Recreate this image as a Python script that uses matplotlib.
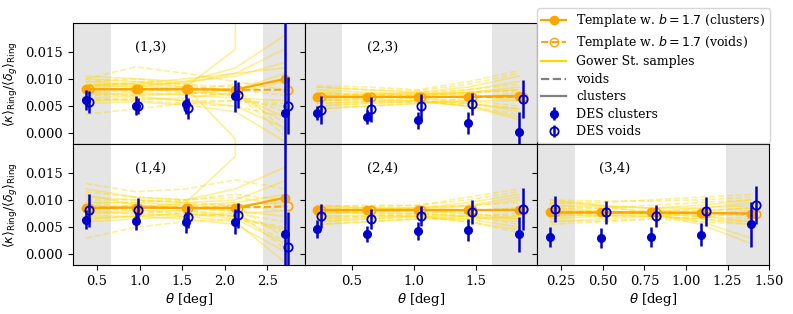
import matplotlib
matplotlib.use('Agg')
import matplotlib.pyplot as plt
import numpy as np
from matplotlib.lines import Line2D

plt.rcParams['font.family'] = 'serif'
plt.rcParams['font.size'] = 9.5

# theta bins per column (deg), void points drawn slightly shifted
theta_1 = [0.37, 0.955, 1.54, 2.125, 2.71]
theta_2 = [0.216, 0.622, 1.03, 1.44, 1.85]
theta_3 = [0.184, 0.489, 0.79, 1.09, 1.39]
void_shift = 0.03

xlim_1 = [0.216, 2.945]
xlim_2 = [0.119, 1.997]
xlim_3 = [0.105, 1.50]
cut_1 = [0.665, 2.45]
cut_2 = [0.42, 1.63]
cut_3 = [0.334, 1.24]

# all values below in units of 1e-3
tmpl_clu_13 = [8.1, 8.1, 8.1, 8.0, 10.0]
tmpl_void_13 = [8.1, 8.1, 8.1, 8.0, 8.0]
des_clu_13 = [6.1, 5.1, 5.4, 6.8, 3.7]
des_clu_err_13 = [1.8, 1.7, 1.9, 2.9, 60.0]
des_void_13 = [5.8, 5.0, 4.6, 7.0, 5.1]
des_void_err_13 = [2.0, 1.5, 1.9, 2.4, 5.2]

tmpl_clu_23 = [6.7, 6.7, 6.7, 6.7, 6.9]
tmpl_void_23 = [6.7, 6.7, 6.7, 6.7, 6.7]
des_clu_23 = [3.8, 3.0, 2.4, 1.9, 0.3]
des_clu_err_23 = [1.3, 1.2, 1.6, 2.1, 3.7]
des_void_23 = [4.3, 4.4, 5.0, 5.4, 6.3]
des_void_err_23 = [2.5, 2.3, 2.3, 2.0, 3.4]

tmpl_clu_14 = [8.5, 8.6, 8.5, 8.5, 10.4]
tmpl_void_14 = [8.6, 8.6, 8.6, 8.6, 8.8]
des_clu_14 = [6.4, 6.1, 5.9, 6.0, 3.7]
des_clu_err_14 = [1.7, 1.7, 1.9, 2.3, 60.0]
des_void_14 = [8.1, 8.2, 6.9, 7.2, 1.3]
des_void_err_14 = [3.0, 2.2, 2.0, 2.3, 6.5]

tmpl_clu_24 = [8.1, 8.1, 8.1, 8.1, 8.1]
tmpl_void_24 = [8.1, 8.1, 8.1, 8.1, 8.2]
des_clu_24 = [4.7, 3.8, 4.3, 4.5, 3.7]
des_clu_err_24 = [1.6, 1.5, 1.6, 2.0, 3.2]
des_void_24 = [7.0, 6.5, 7.1, 7.8, 8.3]
des_void_err_24 = [2.2, 1.8, 1.8, 2.2, 3.9]

tmpl_clu_34 = [7.7, 7.7, 7.7, 7.6, 7.5]
tmpl_void_34 = [7.7, 7.7, 7.7, 7.6, 7.5]
des_clu_34 = [3.2, 3.0, 3.2, 3.6, 5.5]
des_clu_err_34 = [1.9, 1.9, 1.9, 2.1, 4.1]
des_void_34 = [8.3, 7.7, 7.0, 7.9, 9.0]
des_void_err_34 = [2.4, 2.1, 2.0, 2.6, 3.5]

# Gower St. simulation samples
gs_clu_13 = [[10.5, 10.0, 9.5, 10.5, 13.0], [9.5, 9.0, 9.2, 11.0, 15.5],
             [8.5, 8.8, 8.0, 7.0, 3.0], [7.5, 7.0, 7.2, 8.0, 11.0],
             [6.5, 6.8, 6.0, 5.0, 1.0], [9.0, 8.5, 9.5, 12.0, 18.0],
             [7.0, 7.5, 7.0, 6.5, 6.0], [8.0, 8.0, 8.5, 15.4, 5000.0],
             [6.0, 6.2, 6.5, 7.5, 9.5], [10.0, 9.5, 8.5, -1.0, -5000.0],
             [8.8, 9.2, 10.0, 11.0, 12.0], [5.5, 5.8, 5.2, 4.0, -1.5]]
gs_void_13 = [[10.0, 12.2, 11.0, 9.5, 8.0], [3.5, 4.5, 5.5, 6.0, 5.0],
              [9.0, 9.0, 8.5, 8.0, 7.0], [8.0, 8.2, 7.5, 7.0, 4.0],
              [7.0, 7.0, 7.5, 7.0, 2.0], [6.0, 6.5, 6.0, 6.0, 5.5],
              [8.5, 9.5, 9.0, 8.5, 0.5], [7.5, 7.8, 8.0, 9.0, 9.5],
              [9.5, 10.0, 9.0, 7.5, -0.5], [6.5, 6.0, 5.5, 5.0, 3.0]]

gs_clu_23 = [[8.0, 7.5, 7.2, 7.5, 8.0], [7.5, 7.2, 7.0, 8.0, 9.5],
             [6.5, 6.5, 6.8, 7.5, 8.5], [6.0, 6.2, 6.0, 5.5, 4.5],
             [5.5, 5.8, 6.0, 5.0, 3.0], [7.0, 7.0, 7.5, 8.5, 10.5],
             [5.0, 5.5, 5.8, 5.0, 2.5], [6.8, 6.8, 6.5, 5.5, 4.0],
             [8.5, 8.0, 7.5, 7.0, 6.0], [4.5, 5.0, 5.5, 6.0, 6.0]]
gs_void_23 = [[8.8, 8.5, 8.0, 9.5, 11.5], [8.5, 8.0, 7.8, 9.0, 11.0],
              [7.0, 7.2, 7.5, 8.0, 9.0], [5.5, 5.8, 6.0, 5.0, 3.5],
              [4.5, 5.0, 5.5, 6.5, 7.5], [6.5, 6.8, 7.0, 7.5, 8.0],
              [6.0, 6.5, 6.5, 6.0, 5.0], [5.0, 5.5, 5.8, 5.5, 4.5],
              [7.5, 7.0, 7.0, 7.5, 7.8], [6.2, 6.0, 6.5, 7.0, 6.5]]

gs_clu_14 = [[12.0, 10.5, 10.0, 12.0, 16.0], [10.5, 10.0, 9.5, 10.0, 13.5],
             [9.5, 9.5, 9.0, 9.5, 11.0], [8.5, 9.0, 8.5, 8.0, 7.0],
             [7.5, 8.0, 8.0, 7.0, 4.5], [7.0, 7.0, 7.5, 6.5, 2.0],
             [6.0, 6.5, 7.0, 6.0, -1.5], [9.0, 8.5, 9.5, 18.0, 5000.0],
             [11.0, 9.0, 8.5, 9.0, 9.5], [8.0, 7.5, 7.0, 7.5, 8.0],
             [6.5, 7.0, 6.5, 5.5, 0.5]]
gs_void_14 = [[13.0, 11.5, 12.0, 13.7, 12.0], [3.0, 5.0, 6.0, 6.5, 5.0],
              [11.5, 10.5, 10.0, 11.0, 10.0], [9.5, 9.5, 10.0, 10.5, 9.0],
              [9.0, 9.0, 9.0, 9.0, 3.0], [8.0, 8.5, 8.5, 8.0, 1.0],
              [7.5, 7.5, 8.0, 7.5, 6.0], [6.5, 7.0, 7.5, 7.0, 2.5],
              [10.0, 10.0, 9.5, 9.0, 8.0], [8.5, 8.0, 7.5, 7.0, 4.0]]

gs_clu_24 = [[9.0, 8.5, 8.2, 8.8, 10.0], [8.5, 8.5, 8.5, 9.0, 10.5],
             [7.5, 7.8, 8.0, 7.5, 6.5], [7.0, 7.2, 7.0, 6.5, 5.0],
             [6.5, 6.8, 7.0, 6.0, 4.5], [8.0, 8.2, 8.5, 9.5, 11.0],
             [6.0, 6.5, 7.0, 7.0, 6.5], [7.8, 7.5, 7.5, 7.0, 6.0],
             [5.5, 6.0, 6.5, 6.5, 7.0]]
gs_void_24 = [[9.0, 8.8, 9.0, 10.5, 12.0], [8.8, 9.0, 9.0, 10.0, 11.5],
              [8.5, 8.5, 8.5, 9.0, 9.5], [6.0, 6.5, 6.8, 6.0, 4.0],
              [5.5, 6.0, 6.5, 7.0, 7.5], [7.5, 7.8, 8.0, 8.0, 8.5],
              [7.0, 7.0, 7.2, 7.5, 7.0], [6.5, 7.0, 7.5, 7.0, 5.5],
              [8.0, 7.5, 7.5, 8.0, 8.5]]

gs_clu_34 = [[9.5, 9.0, 8.5, 8.5, 9.0], [9.0, 8.8, 8.5, 9.0, 10.0],
             [8.5, 8.0, 7.5, 6.0, 3.0], [7.5, 7.5, 7.8, 8.5, 9.5],
             [7.0, 7.2, 7.0, 6.5, 5.5], [6.5, 7.0, 7.5, 8.0, 8.5],
             [10.0, 9.0, 7.5, 5.5, 2.0], [6.0, 6.5, 7.0, 7.5, 8.0],
             [8.0, 7.8, 7.5, 7.0, 6.0]]
gs_void_34 = [[9.5, 9.5, 10.0, 10.5, 11.0], [10.0, 9.8, 9.8, 10.0, 10.5],
              [8.5, 8.5, 9.0, 9.5, 10.0], [7.0, 7.5, 7.5, 7.0, 6.5],
              [6.0, 6.2, 6.5, 7.0, 7.5], [8.0, 8.0, 7.5, 7.5, 7.0],
              [7.5, 7.0, 7.0, 6.5, 6.0], [9.0, 8.5, 8.0, 8.0, 8.5],
              [5.5, 6.0, 6.5, 6.0, 5.5]]

panels = [
    ((0, 0), '(1,3)', theta_1, xlim_1, cut_1, tmpl_clu_13, tmpl_void_13, des_clu_13, des_clu_err_13,
     des_void_13, des_void_err_13, gs_clu_13, gs_void_13),
    ((0, 1), '(2,3)', theta_2, xlim_2, cut_2, tmpl_clu_23, tmpl_void_23, des_clu_23, des_clu_err_23,
     des_void_23, des_void_err_23, gs_clu_23, gs_void_23),
    ((1, 0), '(1,4)', theta_1, xlim_1, cut_1, tmpl_clu_14, tmpl_void_14, des_clu_14, des_clu_err_14,
     des_void_14, des_void_err_14, gs_clu_14, gs_void_14),
    ((1, 1), '(2,4)', theta_2, xlim_2, cut_2, tmpl_clu_24, tmpl_void_24, des_clu_24, des_clu_err_24,
     des_void_24, des_void_err_24, gs_clu_24, gs_void_24),
    ((1, 2), '(3,4)', theta_3, xlim_3, cut_3, tmpl_clu_34, tmpl_void_34, des_clu_34, des_clu_err_34,
     des_void_34, des_void_err_34, gs_clu_34, gs_void_34),
]

fig, axes = plt.subplots(2, 3, figsize=(7.93, 3.14), dpi=100, sharex='col', sharey=True)
fig.subplots_adjust(left=0.092, right=0.970, top=0.926, bottom=0.155, wspace=0, hspace=0)
axes[0, 2].set_visible(False)

e3 = 1e-3
des_handles = None
for (pos, name, th, xl, cut, tc, tv, dc, dce, dv, dve, gsc, gsv) in panels:
    ax = axes[pos]
    th = np.array(th)
    thv = th + void_shift
    ax.axvspan(xl[0], cut[0], color='0.5', alpha=0.2, lw=0, zorder=0)
    ax.axvspan(cut[1], xl[1], color='0.5', alpha=0.2, lw=0, zorder=0)
    for s in gsc:
        ax.plot(th, np.array(s) * e3, '-', color='gold', alpha=0.4, lw=1.2, zorder=1)
    for s in gsv:
        ax.plot(th, np.array(s) * e3, '--', color='gold', alpha=0.4, lw=1.2, zorder=1)
    ax.plot(th, np.array(tc) * e3, '-o', color='orange', ms=6, lw=1.6, zorder=3)
    ax.plot(thv, np.array(tv) * e3, '--o', color='orange', mfc='none', ms=6, mew=1.2, lw=1.4, zorder=3)
    h1 = ax.errorbar(th, np.array(dc) * e3, yerr=np.array(dce) * e3, fmt='o', color='mediumblue',
                     ms=5.5, elinewidth=1.8, capsize=0, zorder=5)
    h2 = ax.errorbar(thv, np.array(dv) * e3, yerr=np.array(dve) * e3, fmt='o', color='mediumblue',
                     mfc='none', ms=6, mew=1.3, elinewidth=1.8, capsize=0, zorder=5)
    if des_handles is None:
        des_handles = (h1, h2)
    ax.text(0.335, 0.80, name, transform=ax.transAxes, ha='center', va='center')
    ax.set_xlim(xl)

axes[0, 0].set_ylim(-0.002, 0.0202)
axes[0, 0].set_yticks([0.0, 0.005, 0.010, 0.015])
axes[0, 0].yaxis.set_major_formatter(matplotlib.ticker.FormatStrFormatter('%.3f'))

ylab = r'$\langle\kappa\rangle_{\rm Ring}/\langle\delta_g\rangle_{\rm Ring}$'
axes[0, 0].set_ylabel(ylab, fontsize=9)
axes[1, 0].set_ylabel(ylab, fontsize=9)

axes[1, 0].set_xticks([0.5, 1.0, 1.5, 2.0, 2.5])
axes[1, 1].set_xticks([0.5, 1.0, 1.5])
axes[1, 2].set_xticks([0.25, 0.50, 0.75, 1.00, 1.25, 1.50])
for ax in axes[1]:
    ax.set_xlabel(r'$\theta$ [deg]', labelpad=2)

handles = [
    Line2D([], [], color='orange', marker='o', ls='-', ms=6, lw=1.6),
    Line2D([], [], color='orange', marker='o', mfc='none', ls='--', ms=6, lw=1.4),
    Line2D([], [], color='gold', ls='-', lw=1.6),
    Line2D([], [], color='gray', ls='--', lw=1.6),
    Line2D([], [], color='gray', ls='-', lw=1.6),
    des_handles[0], des_handles[1],
]
labels = [r'Template w. $b=1.7$ (clusters)', r'Template w. $b=1.7$ (voids)',
          'Gower St. samples', 'voids', 'clusters', 'DES clusters', 'DES voids']
fig.legend(handles, labels, loc='upper left', bbox_to_anchor=(537 / 793, 1 - 8 / 314),
           borderaxespad=0, fontsize=9, labelspacing=0.36, borderpad=0.35)

fig.savefig('out.png', dpi=100)
